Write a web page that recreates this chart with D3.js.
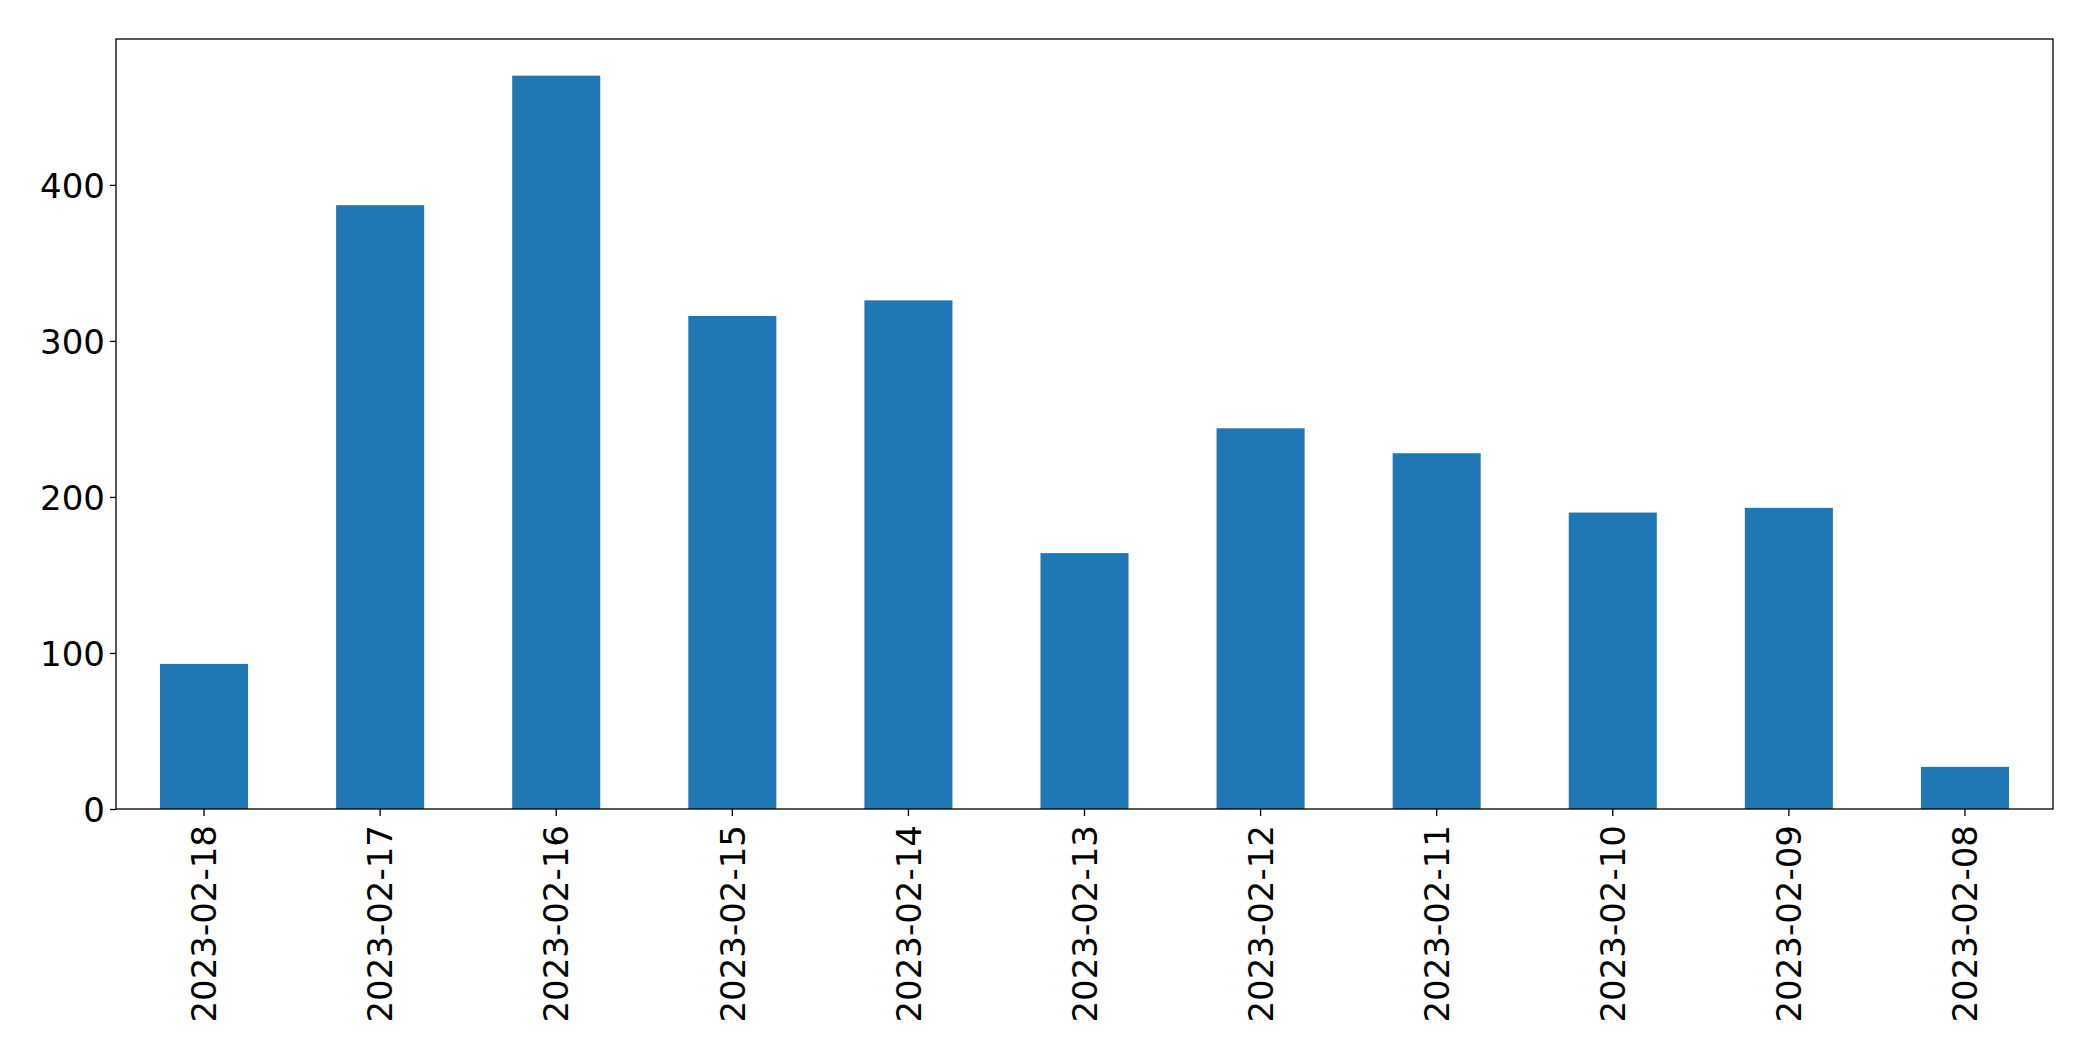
<!DOCTYPE html>
<html>
<head>
<meta charset="utf-8">
<script src="https://cdn.jsdelivr.net/npm/d3@7"></script>
<style>
  body { margin: 0; background: #fff; }
  text { font-family: "DejaVu Sans", sans-serif; }
</style>
</head>
<body>
<div id="chart"></div>
<script>
// Data
let dates = ['2023-02-18', '2023-02-17', '2023-02-16', '2023-02-15', '2023-02-14', '2023-02-13',
  '2023-02-12', '2023-02-11', '2023-02-10', '2023-02-09', '2023-02-08'];
let counts = [93, 387, 470, 316, 326, 164, 244, 228, 190, 193, 27];
let yTicks = [0, 100, 200, 300, 400];

let W = 2093;
let H = 1061;
// plot area edges
let plotL = 116, plotR = 2053, plotT = 39, plotB = 809;

let svg = d3.select('#chart').append('svg').attr('width', W).attr('height', H);

// Band scale: pandas bar plot, bar width 0.5 of category
let x = d3.scaleBand().domain(dates).range([plotL, plotR]).paddingInner(0.5).paddingOuter(0.25);
let y = d3.scaleLinear().domain([0, d3.max(counts) * 1.05]).range([plotB, plotT]);

// Bars
svg.selectAll('rect.bar').data(dates).enter().append('rect')
  .attr('class', 'bar')
  .attr('x', d => x(d))
  .attr('width', x.bandwidth())
  .attr('y', (d, i) => y(counts[i]))
  .attr('height', (d, i) => y(0) - y(counts[i]))
  .attr('fill', '#1f77b4');

// Y axis
let yAxis = svg.append('g').attr('transform', `translate(${plotL},0)`)
  .call(d3.axisLeft(y).tickValues(yTicks).tickSize(6).tickPadding(5).tickFormat(d3.format('d')));
yAxis.select('.domain').remove();
yAxis.selectAll('line').attr('stroke', '#000').attr('stroke-width', 1.3);
yAxis.selectAll('text').attr('font-size', 34).attr('fill', '#000').attr('dy', '0.36em');

// X axis
let xAxis = svg.append('g').attr('transform', `translate(0,${plotB})`)
  .call(d3.axisBottom(x).tickSize(7).tickPadding(0));
xAxis.select('.domain').remove();
xAxis.selectAll('line').attr('stroke', '#000').attr('stroke-width', 1.3);
xAxis.selectAll('text')
  .attr('font-size', 34).attr('fill', '#000')
  .attr('transform', 'translate(0,16) rotate(-90)')
  .attr('text-anchor', 'end')
  .attr('x', 0).attr('y', 0).attr('dy', '0.36em');

// Frame
svg.append('rect')
  .attr('x', plotL).attr('y', plotT)
  .attr('width', plotR - plotL).attr('height', plotB - plotT)
  .attr('fill', 'none').attr('stroke', '#000').attr('stroke-width', 1.3);
</script>
</body>
</html>
